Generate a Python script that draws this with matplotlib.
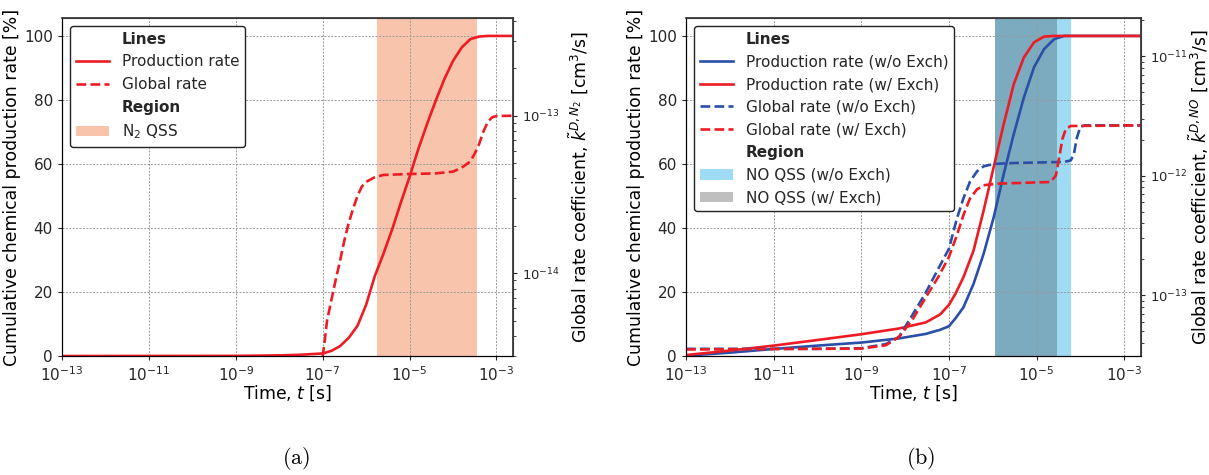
import numpy as np
import matplotlib
matplotlib.use("Agg")
from matplotlib import pyplot as plt
from matplotlib.lines import Line2D
from matplotlib.patches import Patch

# ---- data (time given as log10 of seconds) ----

# (a) N2 dissociation
a_prod_logt = [-13, -9, -8, -7.5, -7.0, -6.8, -6.6, -6.4, -6.2, -6.0, -5.8, -5.6, -5.4,
               -5.2, -5.0, -4.8, -4.6, -4.4, -4.2, -4.0, -3.8, -3.6, -3.4, -3.2, -2.6]
a_prod = [0, 0.05, 0.2, 0.4, 0.8, 1.6, 3.1, 5.7, 9.4, 16, 25, 32, 39.6,
          48, 56, 64.6, 72.4, 79.7, 86.5, 92.2, 96.4, 99, 99.8, 100, 100]

a_glob_logt = [-7.0, -6.95, -6.9, -6.8, -6.7, -6.6, -6.5, -6.4, -6.3, -6.2, -6.1, -6.0,
               -5.8, -5.6, -5.0, -4.4, -4.0, -3.8, -3.6, -3.5, -3.4, -3.3, -3.2, -3.1,
               -3.0, -2.6]
a_glob_logk = [-14.53, -14.42, -14.30, -14.17, -14.04, -13.92, -13.79, -13.68, -13.59,
               -13.51, -13.45, -13.42, -13.39, -13.376, -13.37, -13.366, -13.355, -13.33,
               -13.29, -13.24, -13.18, -13.10, -13.04, -13.01, -13.002, -13.0]

a_qss = (-5.753, -3.44)
a_kticks = [1e-14, 1e-13]

# (b) NO formation, without / with exchange reactions
b_prod_wo_logt = [-13, -12, -11, -10, -9, -8.14, -7.53, -7.2, -7.0, -6.85, -6.67, -6.44,
                  -6.21, -5.98, -5.75, -5.52, -5.29, -5.06, -4.83, -4.60, -4.37, -2.6]
b_prod_wo = [0.1, 1.05, 2.2, 3.25, 4.2, 5.5, 6.9, 8.2, 9.3, 11.8, 15.2, 22.5,
             31.9, 43.3, 56.9, 69.4, 80.8, 90.2, 95.9, 99, 100, 100]

b_prod_w_logt = [-13, -12, -11, -10, -9, -8.14, -7.53, -7.2, -7.0, -6.85, -6.67, -6.44,
                 -6.21, -5.98, -5.75, -5.52, -5.29, -5.06, -4.83, -4.6, -2.6]
b_prod_w = [0.3, 1.7, 3.25, 5.0, 6.8, 8.6, 10.5, 13, 16, 19.5, 24.6, 32.9,
            45.4, 59, 72.5, 85, 93.3, 98, 99.8, 100, 100]

b_glob_wo_logt = [-13, -10, -9, -8.44, -8.14, -7.84, -7.53, -7.23, -7.0, -6.82, -6.67,
                  -6.52, -6.36, -6.21, -5.98, -5.52, -4.37, -4.22, -4.15, -4.08, -4.0,
                  -3.9, -2.6]
b_glob_wo_logk = [-13.45, -13.45, -13.445, -13.41, -13.35, -13.17, -12.98, -12.77, -12.611,
                  -12.36, -12.19, -12.05, -11.964, -11.922, -11.902, -11.894, -11.885,
                  -11.872, -11.82, -11.68, -11.59, -11.579, -11.579]

b_glob_w_logt = [-13, -9, -8.44, -8.14, -7.84, -7.53, -7.23, -7.0, -6.82, -6.67, -6.52,
                 -6.36, -6.21, -5.9, -4.68, -4.56, -4.49, -4.41, -4.33, -4.22, -2.6]
b_glob_w_logk = [-13.455, -13.448, -13.42, -13.35, -13.21, -13.02, -12.84, -12.68, -12.50,
                 -12.33, -12.19, -12.115, -12.08, -12.067, -12.053, -11.998, -11.858,
                 -11.69, -11.607, -11.584, -11.579]

b_qss_wo = (-5.944, -4.207)
b_qss_w = (-5.944, -4.543)
b_kticks = [1e-13, 1e-12, 1e-11]

RED = "#ed1c24"
BLUE = "#2a4fa8"
SALMON = "#f9c4ac"
SKY = "#a0dbf5"

xticks = [1e-13, 1e-11, 1e-9, 1e-7, 1e-5, 1e-3]
xlim = (1e-13, 10 ** -2.62)

plt.rcParams["font.family"] = "DejaVu Sans"
plt.rcParams["text.color"] = "#262626"
plt.rcParams["xtick.color"] = "#262626"
plt.rcParams["ytick.color"] = "#262626"

fig = plt.figure(figsize=(12.09, 4.75), dpi=100)
ax_a = fig.add_axes([0.0513, 0.2505, 0.373, 0.7116])
ax_b = fig.add_axes([0.5674, 0.2505, 0.3763, 0.7116])


def setup(ax, ax2, ylim2, kticks, right_label, label_x):
    ax.set_xscale("log")
    ax.set_xlim(*xlim)
    ax.set_ylim(0, 105.6)
    ax.set_xticks(xticks)
    ax.xaxis.set_minor_locator(matplotlib.ticker.NullLocator())
    ax.set_yticks([0, 20, 40, 60, 80, 100])
    ax.grid(True, color="0.6", linestyle=(0, (2, 1.5)), linewidth=0.7)
    ax.set_axisbelow(True)
    ax.tick_params(labelsize=11, length=3)
    ax.set_xlabel("Time, $t$ [s]", fontsize=12.4, labelpad=0)
    ax.set_ylabel("Cumulative chemical production rate [%]", fontsize=12.4, labelpad=2)
    ax2.set_yscale("log")
    ax2.set_ylim(*ylim2)
    ax2.set_yticks(kticks)
    ax2.yaxis.set_minor_formatter(matplotlib.ticker.NullFormatter())
    ax2.tick_params(labelsize=9.5, length=3)
    ax2.tick_params(which="minor", length=2)
    ax2.set_ylabel(right_label, fontsize=12.4)
    ax2.yaxis.set_label_coords(label_x, 0.5)
    for s in ["left", "bottom"]:
        ax.spines[s].set_color("black")
    for s in ["top", "right"]:
        ax2.spines[s].set_color("#3a3a3a")
        ax2.spines[s].set_linewidth(1.3)
        ax.spines[s].set_color("#3a3a3a")


def legend(ax2, handles, labels):
    leg = ax2.legend(handles, labels, loc="upper left", fontsize=11, framealpha=1,
                     edgecolor="#222222", fancybox=True, handlelength=2.2)
    for t in leg.get_texts():
        if t.get_text() in ("Lines", "Region"):
            t.set_fontweight("bold")
    return leg


blank = Line2D([], [], color="none")

# ---- (a) ----
ax2_a = ax_a.twinx()
ax_a.axvspan(10 ** a_qss[0], 10 ** a_qss[1], color=SALMON, lw=0, zorder=0)
ax_a.plot(10 ** np.array(a_prod_logt), a_prod, color=RED, lw=1.9)
ax2_a.plot(10 ** np.array(a_glob_logt), 10 ** np.array(a_glob_logk), color=RED, lw=1.9,
           ls="--")
setup(ax_a, ax2_a, (10 ** -14.525, 10 ** -12.38), a_kticks,
      r"Global rate coefficient, $\tilde{k}^{D,N_2}$ [cm$^3$/s]", 1.118)
legend(ax2_a,
       [blank, Line2D([], [], color=RED, lw=1.9), Line2D([], [], color=RED, lw=1.9, ls="--"),
        blank, Patch(facecolor=SALMON)],
       ["Lines", "Production rate", "Global rate", "Region", "N$_2$ QSS"])

# ---- (b) ----
ax2_b = ax_b.twinx()
ax_b.axvspan(10 ** b_qss_wo[0], 10 ** b_qss_wo[1], color=SKY, lw=0, zorder=0)
ax_b.axvspan(10 ** b_qss_w[0], 10 ** b_qss_w[1], color="black", alpha=0.22, lw=0, zorder=0)
ax_b.plot(10 ** np.array(b_prod_wo_logt), b_prod_wo, color=BLUE, lw=1.9)
ax_b.plot(10 ** np.array(b_prod_w_logt), b_prod_w, color=RED, lw=1.9)
ax2_b.plot(10 ** np.array(b_glob_wo_logt), 10 ** np.array(b_glob_wo_logk), color=BLUE,
           lw=1.9, ls="--")
ax2_b.plot(10 ** np.array(b_glob_w_logt), 10 ** np.array(b_glob_w_logk), color=RED,
           lw=1.9, ls="--")
setup(ax_b, ax2_b, (10 ** -13.51, 10 ** -10.68), b_kticks,
      r"Global rate coefficient, $\tilde{k}^{D,NO}$ [cm$^3$/s]", 1.099)
legend(ax2_b,
       [blank, Line2D([], [], color=BLUE, lw=1.9), Line2D([], [], color=RED, lw=1.9),
        Line2D([], [], color=BLUE, lw=1.9, ls="--"), Line2D([], [], color=RED, lw=1.9, ls="--"),
        blank, Patch(facecolor=SKY), Patch(facecolor="black", alpha=0.25)],
       ["Lines", "Production rate (w/o Exch)", "Production rate (w/ Exch)",
        "Global rate (w/o Exch)", "Global rate (w/ Exch)", "Region",
        "NO QSS (w/o Exch)", "NO QSS (w/ Exch)"])

fig.text(296 / 1209, 1 - 458 / 475, r"$\mathrm{(a)}$", fontsize=16, ha="center", va="center",
         math_fontfamily="cm", color="black")
fig.text(921 / 1209, 1 - 458 / 475, r"$\mathrm{(b)}$", fontsize=16, ha="center", va="center",
         math_fontfamily="cm", color="black")

fig.savefig("out.png", dpi=100)
